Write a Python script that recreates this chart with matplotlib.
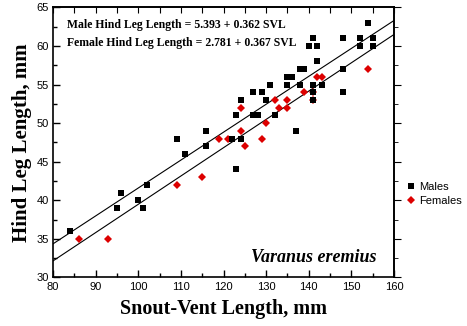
import matplotlib
matplotlib.use("Agg")
import matplotlib.pyplot as plt
import numpy as np

# snout-vent length (mm) and hind leg length (mm)
male_svl = [84, 95, 96, 100, 101, 102, 109, 111, 116, 116, 122, 123, 123, 124, 124,
            127, 128, 127, 129, 130, 131, 132, 135, 135, 136, 137, 138, 138, 139,
            141, 141, 141, 141, 140, 142, 142, 143, 148, 148, 148, 152, 152, 154,
            155, 155]
male_hl = [36, 39, 41, 40, 39, 42, 48, 46, 47, 49, 48, 44, 51, 48, 53,
           51, 51, 54, 54, 53, 55, 51, 55, 56, 56, 49, 55, 57, 57,
           53, 54, 55, 61, 60, 60, 58, 55, 54, 57, 61, 60, 61, 63,
           60, 61]

female_svl = [86, 93, 109, 115, 119, 121, 124, 124, 125, 129, 130, 132, 133, 135,
              135, 139, 141, 141, 142, 143, 154]
female_hl = [35, 35, 42, 43, 48, 48, 49, 52, 47, 48, 50, 53, 52, 52,
             53, 54, 53, 54, 56, 56, 57]

male_fit = (5.393, 0.362)
female_fit = (2.781, 0.367)

serif = "Liberation Serif"
sans = "Liberation Sans"

fig = plt.figure(figsize=(4.67, 3.26), dpi=100)
ax = fig.add_axes([0.1135, 0.149, 0.7302, 0.828])

xs = np.array([80, 160])
ax.plot(xs, male_fit[0] + male_fit[1] * xs, color="black", lw=0.8)
ax.plot(xs, female_fit[0] + female_fit[1] * xs, color="black", lw=0.8)

ax.plot(female_svl, female_hl, "D", color="#dd0000", markersize=4.2, mew=0,
        label="Females", zorder=3)
ax.plot(male_svl, male_hl, "s", color="black", markersize=3.9, mew=0,
        label="Males", zorder=4)

ax.set_xlim(80, 160)
ax.set_ylim(30, 65)
ax.set_xticks(range(80, 161, 10))
ax.set_xticks(range(85, 160, 10), minor=True)
ax.set_yticks(range(30, 66, 5))
ax.set_yticks(np.arange(32.5, 65, 5), minor=True)
ax.tick_params(which="both", direction="in", labelsize=8, top=False, right=False,
               width=1, pad=3)
ax.tick_params(which="major", length=5)
ax.tick_params(which="minor", length=3)
for lab in ax.get_xticklabels() + ax.get_yticklabels():
    lab.set_family(sans)

sec_x = ax.secondary_xaxis("top")
sec_x.set_xticks(range(80, 161, 5))
sec_x.tick_params(direction="in", length=4, labeltop=False)
sec_y = ax.secondary_yaxis("right")
sec_y.set_yticks(range(30, 66, 5))
sec_y.set_yticks(np.arange(32.5, 65, 5), minor=True)
sec_y.tick_params(which="both", direction="out", labelright=False)
sec_y.tick_params(which="major", length=5)
sec_y.tick_params(which="minor", length=3)
for a in (ax, sec_x, sec_y):
    for s in a.spines.values():
        s.set_linewidth(1.2)

ax.set_xlabel("Snout-Vent Length, mm", family=serif, fontweight="bold", fontsize=14.5,
              labelpad=5)
ax.set_ylabel("Hind Leg Length, mm", family=serif, fontweight="bold", fontsize=15,
              labelpad=3)

ax.text(0.04, 0.935, "Male Hind Leg Length = 5.393 + 0.362 SVL", transform=ax.transAxes,
        family=serif, fontweight="bold", fontsize=8.5, va="center")
ax.text(0.04, 0.868, "Female Hind Leg Length = 2.781 + 0.367 SVL", transform=ax.transAxes,
        family=serif, fontweight="bold", fontsize=8.5, va="center")
ax.text(0.95, 0.075, "Varanus eremius", transform=ax.transAxes, family=serif,
        fontweight="bold", style="italic", fontsize=13, ha="right", va="center")

handles, labels = ax.get_legend_handles_labels()
fig.legend(handles[::-1], labels[::-1], loc="center left", bbox_to_anchor=(0.86, 0.405),
           frameon=False, prop={"family": sans, "size": 8}, handlelength=0.6,
           handletextpad=0.5, labelspacing=0.3, borderpad=0)

fig.savefig("out.png", dpi=100)
